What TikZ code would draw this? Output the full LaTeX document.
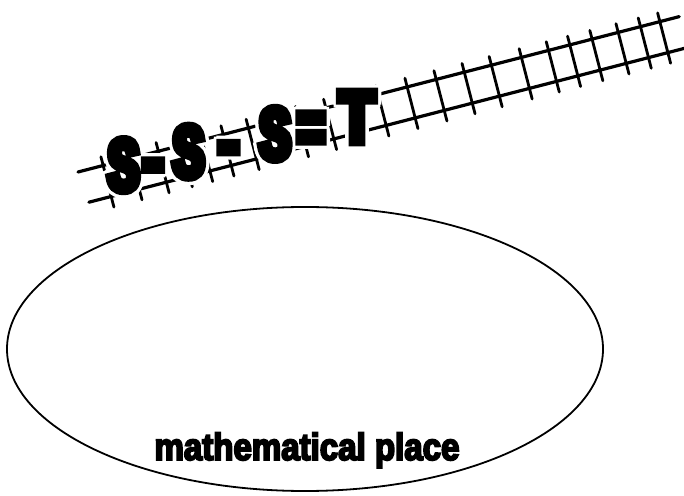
\documentclass[tikz,border=0pt]{standalone}
\usepackage{fontspec}
\newfontfamily\bigfont[FakeBold=12,FakeStretch=0.62]{Liberation Sans Bold}
\newfontfamily\bigdash[FakeBold=12,FakeStretch=0.85]{Liberation Sans Bold}
\newfontfamily\bigtee[FakeBold=12,FakeStretch=0.78]{Liberation Sans Bold}
\newfontfamily\labfont[FakeBold=5,FakeStretch=0.87]{Liberation Sans Bold}
\tikzset{
  rail/.style={line width=3.2pt, line cap=round},
  tie/.style={line width=2.8pt, line cap=round},
  letter/.style={font=\bigfont\fontsize{72.6}{72.6}\selectfont, anchor=base, inner sep=0pt, text=black},
  dashlook/.style={font=\bigdash\fontsize{72.6}{72.6}\selectfont},
  teelook/.style={font=\bigtee\fontsize{72.6}{72.6}\selectfont},
  plainlook/.style={},
  halo/.style={letter, text=white},
  oval/.style={draw, line width=1.8pt, ellipse, minimum width=596pt, minimum height=284pt, inner sep=0pt},
  placelabel/.style={font=\labfont\fontsize{38}{38}\selectfont, anchor=base, inner sep=0pt}
}
\usetikzlibrary{shapes.geometric}
\begin{document}
\begin{tikzpicture}[x=1pt,y=1pt]
\useasboundingbox[fill=white] (0,0) rectangle (684,495);
% ellipse
\node[oval] (place) at (305,146) {};
\node[placelabel] (placetext) at (307,35) {mathematical place};
% track
\begin{scope}[shift={(78,323)}, rotate=14.49]
  \draw[rail] (0,0) -- (621,0);
  \draw[rail] (3,-32) -- (625,-32);
  \foreach \s in {26,55,83,107,128,150,176,201,227,256,283,310,340,370,399,427,458,486,508,531,558,581,601}
    \draw[tie] (\s,9) -- (\s,-43);
\end{scope}
% letters with white halo
\foreach \c/\x/\dy/\st in {S/123.5/0/plainlook, -/153/0/dashlook, S/188.5/0/plainlook, -/228.5/2/dashlook, S/275/0/plainlook, =/311/0/plainlook, T/357/0/teelook} {
  \pgfmathsetmacro\yy{305+0.206*(\x-124)+\dy}
  \foreach \a in {0,45,...,315}
    \node[halo,\st,text=white] at ([shift={(\a:3.4)}] \x,\yy) {\c};
}
\foreach \n/\c/\x/\dy/\st in {s1/S/123.5/0/plainlook, d1/-/153/0/dashlook, s2/S/188.5/0/plainlook, d2/-/228.5/2/dashlook, s3/S/275/0/plainlook, eq/=/311/0/plainlook, t/T/357/0/teelook} {
  \pgfmathsetmacro\yy{305+0.206*(\x-124)+\dy}
  \node[letter,\st] (\n) at (\x,\yy) {\c};
}
\end{tikzpicture}
\end{document}
